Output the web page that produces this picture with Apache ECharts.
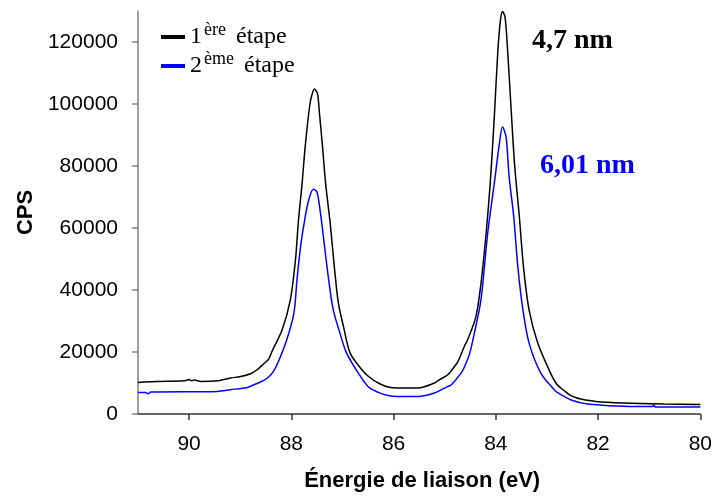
<!DOCTYPE html>
<html>
<head>
<meta charset="utf-8">
<script src="https://cdn.jsdelivr.net/npm/echarts@6/dist/echarts.min.js"></script>
<style>
html,body{margin:0;padding:0;background:#fff;}
#c{width:715px;height:498px;}
</style>
</head>
<body>
<div id="c"></div>
<script>
// Binding energy (eV) and counts for the 1st step (black)
const energy1 = [91.0, 90.65, 90.1, 90.0, 89.95, 89.9, 89.77, 89.45, 89.19, 88.99, 88.80, 88.67, 88.54, 88.44, 88.38, 88.18, 88.02, 87.92, 87.86, 87.79, 87.73, 87.64, 87.60, 87.55, 87.49, 87.45, 87.39, 87.33, 87.24, 87.16, 87.08, 86.98, 86.85, 86.62, 86.49, 86.30, 86.11, 85.91, 85.52, 85.20, 85.13, 84.94, 84.81, 84.74, 84.61, 84.55, 84.39, 84.29, 84.19, 84.11, 84.03, 83.96, 83.91, 83.87, 83.82, 83.77, 83.70, 83.63, 83.54, 83.46, 83.35, 83.18, 82.93, 82.80, 82.66, 82.54, 82.44, 82.34, 82.05, 81.50, 80.72, 80.0];
const cps1 = [10200, 10500, 10700, 11100, 10700, 11000, 10500, 10700, 11600, 12100, 12980, 14270, 16200, 17800, 20160, 27150, 36810, 49690, 62570, 74400, 86180, 99600, 102800, 104800, 103400, 96900, 86180, 74400, 61500, 47540, 35750, 28200, 19650, 14270, 12110, 10000, 8700, 8370, 8370, 9980, 10800, 12660, 15330, 16940, 22000, 24000, 31430, 42190, 58290, 74400, 95850, 117330, 126990, 129800, 128050, 117330, 98000, 79740, 63640, 47540, 33590, 22870, 13200, 9440, 7500, 6000, 5300, 4830, 4060, 3540, 3220, 3100];

// Binding energy (eV) and counts for the 2nd step (blue)
const energy2 = [91.0, 90.85, 90.8, 90.75, 89.45, 89.19, 88.86, 88.73, 88.54, 88.44, 88.34, 88.25, 88.09, 87.95, 87.89, 87.82, 87.74, 87.66, 87.57, 87.50, 87.43, 87.35, 87.27, 87.18, 87.05, 86.92, 86.69, 86.49, 86.30, 86.11, 85.91, 85.52, 85.20, 84.94, 84.87, 84.68, 84.61, 84.51, 84.42, 84.29, 84.16, 84.03, 83.93, 83.87, 83.80, 83.74, 83.65, 83.57, 83.47, 83.35, 83.12, 82.86, 82.80, 82.54, 82.21, 81.37, 80.93, 80.91, 80.88, 80.0];
const cps2 = [6960, 6960, 6500, 7080, 7280, 7830, 8570, 9440, 10820, 12000, 14000, 17000, 23930, 32530, 43250, 53980, 62570, 69010, 72460, 71690, 64730, 53980, 43250, 33590, 26090, 19650, 13200, 8700, 6960, 5990, 5670, 5670, 6760, 8890, 9440, 13200, 15330, 19650, 26090, 37000, 58290, 74400, 87280, 92600, 89400, 76520, 63640, 47540, 33590, 22870, 13200, 7830, 6960, 4600, 3220, 2450, 2450, 2900, 2250, 2250];

const xTicks = [80, 82, 84, 86, 88, 90];
const yTicks = [0, 20000, 40000, 60000, 80000, 100000, 120000];
const seriesNames = ['1ère étape', '2ème étape'];
const annotations = ['4,7 nm', '6,01 nm'];

function pairs(xs, ys) { return xs.map((x, i) => [x, ys[i]]); }

const chart = echarts.init(document.getElementById('c'), null, {renderer: 'canvas'});
const axisFont = {fontFamily: '"Liberation Sans", Arial, sans-serif', fontSize: 21, color: '#000'};
const serif = '"Liberation Serif", "Times New Roman", serif';

function legendFor(name, top) {
  return {
    orient: 'vertical',
    left: 161,
    top: top,
    padding: 0,
    itemWidth: 24,
    itemHeight: 4,
    icon: 'rect',
    data: [name],
    formatter: function (n) {
      const sp = n.indexOf(' ');
      return '{n|' + n.charAt(0) + '}{s|' + n.slice(1, sp) + '}{n|\u00a0' + n.slice(sp + 1) + '}';
    },
    textStyle: {
      rich: {
        n: {fontFamily: serif, fontSize: 24, lineHeight: 38, color: '#000'},
        s: {fontFamily: serif, fontSize: 18, lineHeight: 18, padding: [3, 4, 0, 2], verticalAlign: 'top', color: '#000'}
      }
    }
  };
}

chart.setOption({
  animation: false,
  backgroundColor: '#fff',
  grid: {left: 138, right: 10, top: 11, bottom: 84},
  legend: [legendFor(seriesNames[0], 18), legendFor(seriesNames[1], 47)],
  xAxis: {
    type: 'value',
    min: 80,
    max: 91,
    inverse: true,
    name: 'Énergie de liaison (eV)',
    nameLocation: 'middle',
    nameGap: 56,
    nameTextStyle: {fontFamily: '"Liberation Sans", Arial, sans-serif', fontSize: 22, fontWeight: 'bold', color: '#000', padding: [0, 0, 0, 6]},
    axisLine: {show: true, lineStyle: {color: '#333', width: 1.5}},
    axisTick: {show: true, length: 6, customValues: xTicks, lineStyle: {color: '#333', width: 1.5}},
    axisLabel: Object.assign({margin: 20, customValues: xTicks}, axisFont),
    splitLine: {show: false}
  },
  yAxis: {
    type: 'value',
    min: 0,
    max: 130000,
    name: 'CPS',
    nameLocation: 'middle',
    nameGap: 99,
    nameRotate: 90,
    nameTextStyle: {fontFamily: '"Liberation Sans", Arial, sans-serif', fontSize: 22, fontWeight: 'bold', color: '#000'},
    axisLine: {show: true, lineStyle: {color: '#808080', width: 1.5}},
    axisTick: {show: true, length: 6, customValues: yTicks, lineStyle: {color: '#808080', width: 1.5}},
    axisLabel: Object.assign({margin: 20, customValues: yTicks, formatter: function (v) { return String(v); }}, axisFont),
    splitLine: {show: false}
  },
  graphic: [
    {type: 'text', left: 532, top: 27, style: {text: annotations[0], fill: '#000', font: 'bold 28px ' + serif}},
    {type: 'text', left: 540, top: 152, style: {text: annotations[1], fill: '#0000ff', font: 'bold 28px ' + serif}}
  ],
  series: [
    {name: seriesNames[0], type: 'line', data: pairs(energy1, cps1), smooth: 0.3, showSymbol: false, symbol: 'none', lineStyle: {color: '#000', width: 1.5}, itemStyle: {color: '#000'}},
    {name: seriesNames[1], type: 'line', data: pairs(energy2, cps2), smooth: 0.3, showSymbol: false, symbol: 'none', lineStyle: {color: '#0000ff', width: 1.5}, itemStyle: {color: '#0000ff'}}
  ]
});
</script>
</body>
</html>
